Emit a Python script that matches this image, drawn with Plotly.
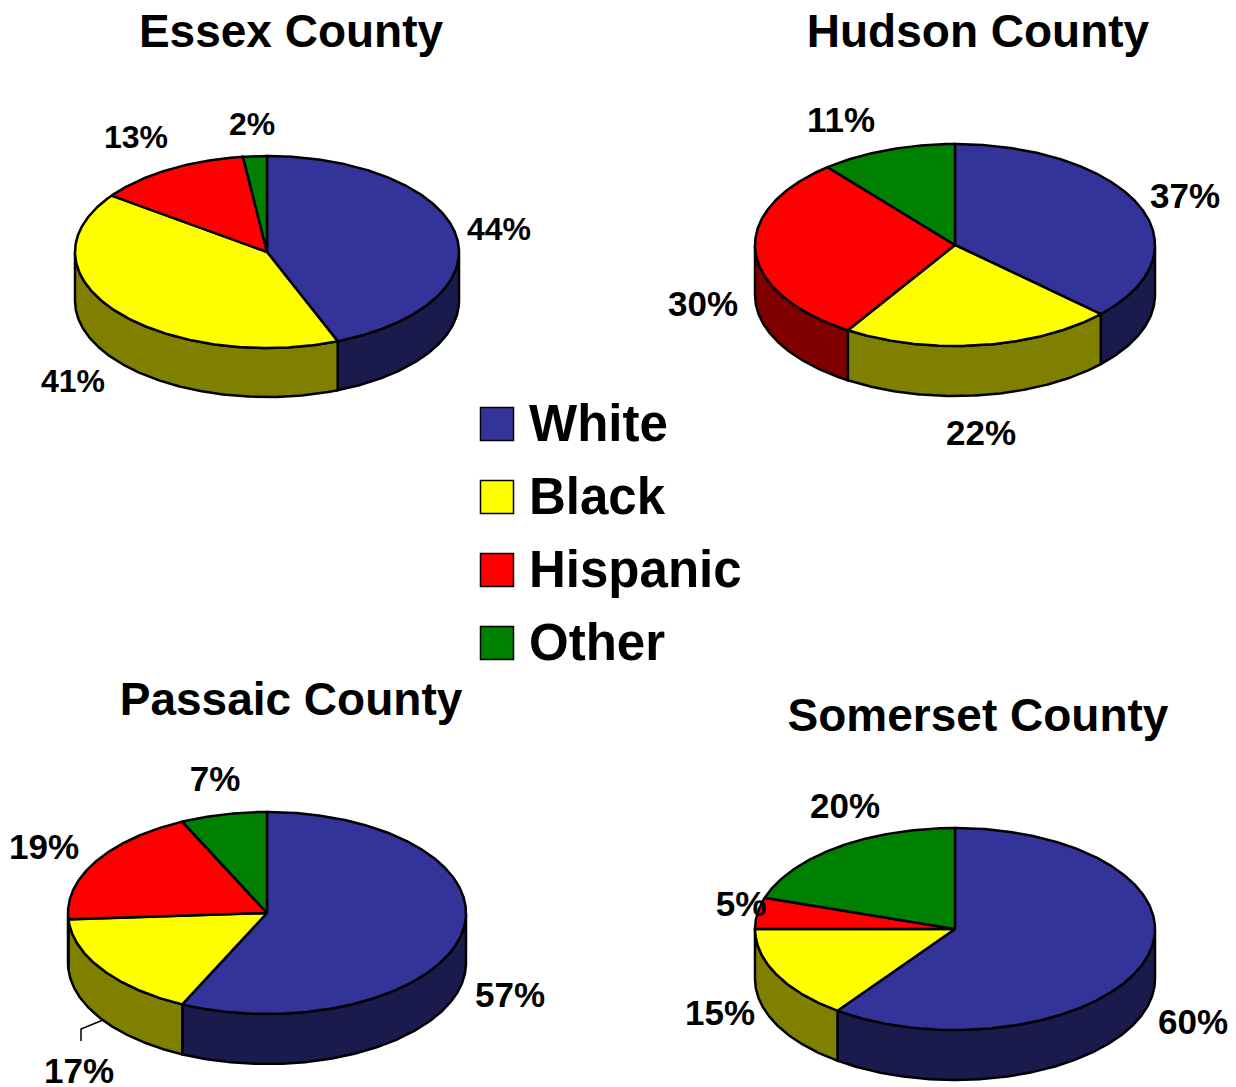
import numpy as np
import plotly.graph_objects as go

categories = ["White", "Black", "Hispanic", "Other"]
counties = ["Essex County", "Hudson County", "Passaic County", "Somerset County"]
essex_values = [44, 41, 13, 2]
hudson_values = [37, 22, 30, 11]
passaic_values = [57, 17, 19, 7]
somerset_values = [60, 15, 5, 20]
all_values = [essex_values, hudson_values, passaic_values, somerset_values]

top_colors = ["#333399", "#FFFF00", "#FF0000", "#008000"]
side_colors = ["#1A1A4D", "#808000", "#800000", "#004000"]

# pie geometry in the page's pixel scale: centre x, centre y, x radius, y radius, depth
pie_geometry = [(267, 252, 192, 96, 49), (955, 245, 200, 101, 50),
                (267, 913, 199, 101, 50), (955, 929, 200, 101, 50)]
title_positions = [(291, 35), (978, 35), (291, 703), (978, 719)]
label_sizes = [32, 35, 35, 35]
label_positions = [
    [(499, 232), (73, 384), (136, 140), (252, 127)],
    [(1185, 199), (981, 436), (703, 307), (841, 123)],
    [(510, 998), (79, 1074), (44, 850), (215, 782)],
    [(1193, 1025), (720, 1016), (741, 907), (845, 809)],
]
legend_marker_x = 497
legend_text_x = 529
legend_marker_y = [424, 497, 570, 643]
legend_text_y = [428, 501, 574, 647]

LINE = dict(color="black", width=2.5)
fig = go.Figure()


def arc(cx, cy, rx, ry, a0, a1, dy=0):
    t = np.radians(np.linspace(a0, a1, max(int(abs(a1 - a0)) * 2, 2)))
    return cx + rx * np.sin(t), cy - ry * np.cos(t) + dy


def poly(x, y, color, name):
    fig.add_trace(go.Scatter(x=list(x), y=list(y), mode="lines", fill="toself",
                             fillcolor=color, line=LINE, name=name,
                             hoverinfo="name", showlegend=False))


for county, values, geo in zip(counties, all_values, pie_geometry):
    cx, cy, rx, ry, depth = geo
    edges = np.concatenate([[0], np.cumsum(values)]) * 3.6
    # side walls: only the part of each slice facing the viewer
    for i, cat in enumerate(categories):
        a0, a1 = max(edges[i], 90), min(edges[i + 1], 270)
        if a1 > a0:
            xt, yt = arc(cx, cy, rx, ry, a0, a1)
            xb, yb = arc(cx, cy, rx, ry, a1, a0, depth)
            poly(np.r_[xt, xb, xt[0]], np.r_[yt, yb, yt[0]], side_colors[i],
                 f"{county} {cat} {values[i]}%")
    # top faces
    for i, cat in enumerate(categories):
        xa, ya = arc(cx, cy, rx, ry, edges[i], edges[i + 1])
        poly(np.r_[cx, xa, cx], np.r_[cy, ya, cy], top_colors[i],
             f"{county} {cat} {values[i]}%")

# value labels
for values, positions, size in zip(all_values, label_positions, label_sizes):
    fig.add_trace(go.Scatter(
        x=[p[0] for p in positions], y=[p[1] for p in positions],
        mode="text", text=[f"{v}%" for v in values], textposition="middle center",
        textfont=dict(family="Liberation Sans", size=size, color="black", weight="bold"),
        hoverinfo="skip", showlegend=False, cliponaxis=False))

# county titles
fig.add_trace(go.Scatter(
    x=[p[0] for p in title_positions], y=[p[1] for p in title_positions],
    mode="text", text=counties, textposition="middle center",
    textfont=dict(family="Liberation Sans", size=46, color="black", weight="bold"),
    hoverinfo="skip", showlegend=False))

# leader line of the Passaic 17% label
fig.add_trace(go.Scatter(x=[81, 81, 103], y=[1041, 1029, 1020], mode="lines",
                         line=dict(color="black", width=1.5),
                         hoverinfo="skip", showlegend=False))

# legend key
fig.add_trace(go.Scatter(
    x=[legend_marker_x] * 4, y=legend_marker_y, mode="markers",
    marker=dict(symbol="square", size=33, color=top_colors,
                line=dict(color="black", width=1.5)),
    text=categories, hoverinfo="text", showlegend=False))
fig.add_trace(go.Scatter(
    x=[legend_text_x] * 4, y=legend_text_y, mode="text", text=categories,
    textposition="middle right",
    textfont=dict(family="Liberation Sans", size=51, color="black", weight="bold"),
    hoverinfo="skip", showlegend=False))

fig.update_layout(
    width=1236, height=1087, margin=dict(l=0, r=0, t=0, b=0),
    paper_bgcolor="white", plot_bgcolor="white", showlegend=False,
    xaxis=dict(range=[0, 1236], visible=False, fixedrange=True),
    yaxis=dict(range=[1087, 0], visible=False, fixedrange=True),
)
fig.write_html("out.html", config=dict(displayModeBar=False),
               post_script="document.body.style.margin='0';document.body.style.overflow='hidden';")
